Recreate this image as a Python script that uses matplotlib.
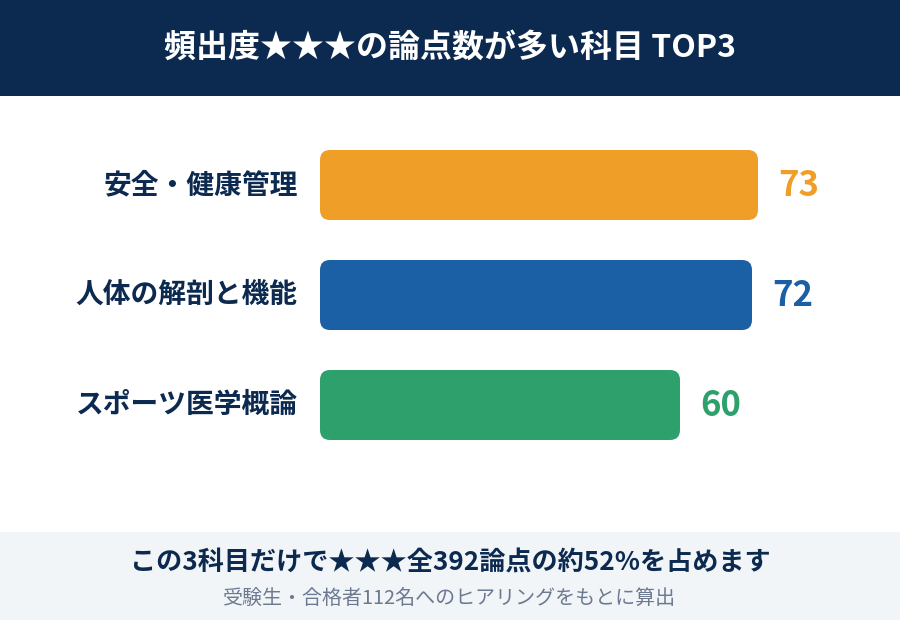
import matplotlib
matplotlib.use('Agg')
import matplotlib.pyplot as plt
from matplotlib.patches import FancyBboxPatch, Rectangle

plt.rcParams['font.family'] = ['Noto Sans CJK JP', 'DejaVu Sans']

# data
subjects = ['安全・健康管理', '人体の解剖と機能', 'スポーツ医学概論']
counts = [73, 72, 60]
colors = ['#EF9F28', '#1B5FA5', '#2EA06C']

title = '頻出度★★★の論点数が多い科目 TOP3'
note_main = 'この3科目だけで★★★全392論点の約52%を占めます'
note_sub = '受験生・合格者112名へのヒアリングをもとに算出'

navy = '#0C2A50'
W, H = 900, 620

fig = plt.figure(figsize=(9, 6.2), dpi=100)
fig.patch.set_facecolor('white')

# header / footer bands
bg = fig.add_axes([0, 0, 1, 1])
bg.set_xlim(0, W)
bg.set_ylim(H, 0)
bg.axis('off')
bg.add_patch(Rectangle((0, 0), W, 96, color=navy, lw=0))
bg.add_patch(Rectangle((0, 532), W, 88, color='#F2F5F8', lw=0))
bg.text(W / 2, 48, title, color='white', fontsize=23, fontweight='bold',
        ha='center', va='center')
bg.text(W / 2, 563, note_main, color=navy, fontsize=18.8, fontweight='bold',
        ha='center', va='center')
bg.text(W / 2, 598, note_sub, color='#6B7A90', fontsize=14.4,
        ha='center', va='center')

# bar axes: x 320..860 px, y 130..460 px
ax = fig.add_axes([320 / W, (H - 460) / H, 540 / W, 330 / H])
ax.set_xlim(0, 90)
ax.set_ylim(2.5, -0.5)
ax.axis('off')

bar_h = 70 / 110
rad = 10 / 6
for i, (name, v, c) in enumerate(zip(subjects, counts, colors)):
    p = FancyBboxPatch((0, i - bar_h / 2), v, bar_h,
                       boxstyle=f'round,pad=0,rounding_size={rad}',
                       mutation_aspect=6 / 110, fc=c, ec='none')
    ax.add_patch(p)
    ax.text(v + 3.3, i, str(v), color=c, fontsize=25, fontweight='bold',
            ha='left', va='center')
    ax.text(-3.7, i, name, color=navy, fontsize=20, fontweight='bold',
            ha='right', va='center', clip_on=False)

fig.savefig('out.png', dpi=100, facecolor='white')
